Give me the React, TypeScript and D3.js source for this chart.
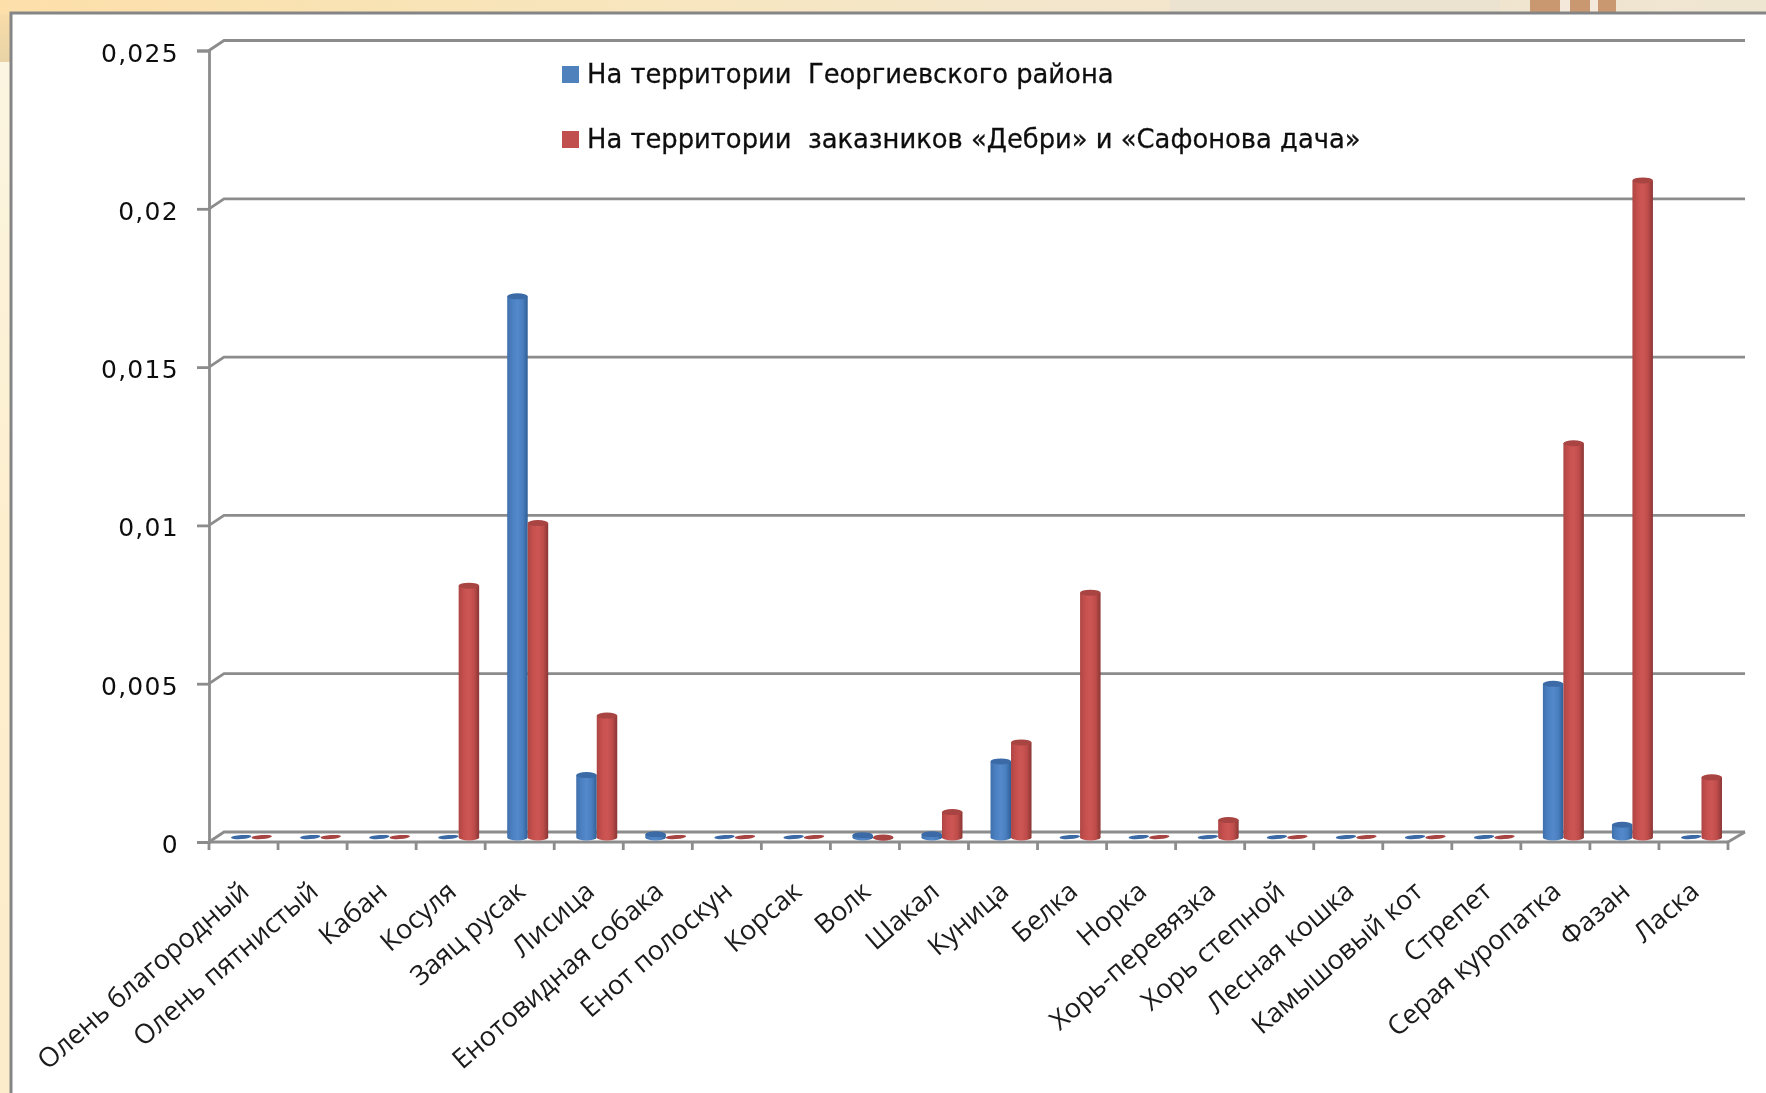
import { useEffect, useRef } from 'react'
import * as d3 from 'd3'

const categories = [
  'Олень благородный', 'Олень пятнистый', 'Кабан', 'Косуля', 'Заяц русак', 'Лисица',
  'Енотовидная собака', 'Енот полоскун', 'Корсак', 'Волк', 'Шакал', 'Куница', 'Белка',
  'Норка', 'Хорь-перевязка', 'Хорь степной', 'Лесная кошка', 'Камышовый кот', 'Стрепет',
  'Серая куропатка', 'Фазан', 'Ласка'
]
const districtValues = [
  0, 0, 0, 0, 0.01714, 0.00202, 0.00015, 0, 0, 0.00012, 0.00015, 0.00245, 0,
  0, 0, 0, 0, 0, 0, 0.0049, 0.00045, 0
]
const reserveValues = [
  0, 0, 0, 0.008, 0.00998, 0.0039, 0, 0, 0, 0.00005, 0.00085, 0.00305, 0.00778,
  0, 0.0006, 0, 0, 0, 0, 0.0125, 0.0208, 0.00195
]
const yTicks = [0, 0.005, 0.01, 0.015, 0.02, 0.025]
const legendLabels = [
  'На территории  Георгиевского района',
  'На территории  заказников «Дебри» и «Сафонова дача»'
]

const WIDTH = 1766
const HEIGHT = 1093

export default function App() {
  const svgRef = useRef<SVGSVGElement>(null)

  useEffect(() => {
    if (!svgRef.current) return
    const root = d3.select(svgRef.current)
    root.selectAll('*').remove()

    // front plane of the 3D box, the back wall is offset by depth
    const left = 209
    const right = 1728
    const zeroY = 842
    const topY = 50.5
    const depthX = 17
    const depthY = 10

    const x = d3.scaleBand<string>().domain(categories).range([left, right])
    const y = d3.scaleLinear().domain([0, 0.025]).range([zeroY, topY])

    const defs = root.append('defs')
    const addGradient = (id: string, stops: string[]) => {
      const g = defs.append('linearGradient').attr('id', id)
      stops.forEach((c, i) => {
        g.append('stop').attr('offset', i / (stops.length - 1)).attr('stop-color', c)
      })
    }
    addGradient('blueBar', ['#3f70ab', '#4b80c2', '#5489cb', '#4a7fbf', '#2f5f96'])
    addGradient('redBar', ['#ad4644', '#c6504e', '#cd5654', '#bf4d4b', '#8a3634'])
    addGradient('topBand', ['#fddfaa', '#f9e3b4', '#f7e6c0', '#f3e6cc', '#f0e4cc', '#efe6d2'])

    const side = defs.append('linearGradient').attr('id', 'sideBand').attr('x1', 0).attr('x2', 0).attr('y1', 0).attr('y2', 1)
    side.append('stop').attr('offset', 0).attr('stop-color', '#fddfaa')
    side.append('stop').attr('offset', 1).attr('stop-color', '#e9d3a6')

    const cream = defs.append('linearGradient').attr('id', 'cream').attr('x1', 0).attr('x2', 0).attr('y1', 0).attr('y2', 1)
    cream.append('stop').attr('offset', 0).attr('stop-color', '#fbf6e4')
    cream.append('stop').attr('offset', 0.5).attr('stop-color', '#fdeecd')
    cream.append('stop').attr('offset', 1).attr('stop-color', '#fdeccb')

    // the reference is an upscaled screenshot, keep it a bit soft
    defs.append('filter').attr('id', 'soft')
      .attr('x', 0).attr('y', 0)
      .attr('filterUnits', 'userSpaceOnUse')
      .attr('width', WIDTH).attr('height', HEIGHT)
      .append('feGaussianBlur').attr('stdDeviation', 0.6)

    const svg = root.append('g').attr('filter', 'url(#soft)')

    // slide background and chart panel
    svg.append('rect').attr('width', WIDTH).attr('height', HEIGHT).attr('fill', 'url(#cream)')
    svg.append('rect').attr('width', 11).attr('height', 62).attr('fill', 'url(#sideBand)')
    svg.append('rect').attr('width', WIDTH).attr('height', 14).attr('fill', 'url(#topBand)')
    svg.append('rect').attr('x', 1170).attr('width', 330).attr('height', 13).attr('fill', '#ebe2d0')
    svg.append('rect').attr('x', 1530).attr('width', 86).attr('height', 13).attr('fill', '#c9986f')
    svg.append('rect').attr('x', 1560).attr('width', 10).attr('height', 13).attr('fill', '#f3e8da')
    svg.append('rect').attr('x', 1590).attr('width', 8).attr('height', 13).attr('fill', '#f3e8da')
    svg.append('rect')
      .attr('x', 11).attr('y', 13).attr('width', WIDTH).attr('height', HEIGHT)
      .attr('fill', '#ffffff').attr('stroke', '#858585').attr('stroke-width', 3)

    const gridColor = '#8c8c8c'
    const grid = svg.append('g').attr('stroke', gridColor).attr('stroke-width', 2.8).attr('fill', 'none')

    // gridlines run along the back wall and step down to the front axis
    grid.selectAll('path')
      .data(yTicks)
      .enter()
      .append('path')
      .attr('d', d => {
        const py = y(d)
        return `M${left},${py}L${left + depthX - 2},${py - depthY}H${right + depthX}`
      })

    // floor of the box
    grid.append('path')
      .attr('d', `M${right},${zeroY}L${right + depthX},${zeroY - depthY}`)

    // axes
    const yAxis = d3.axisLeft(y)
      .tickValues(yTicks)
      .tickSize(12)
      .tickPadding(18)
      .tickFormat(d => String(d).replace('.', ','))
    const yG = svg.append('g').attr('transform', `translate(${left},0)`).call(yAxis)
    yG.select('.domain').attr('stroke', gridColor).attr('stroke-width', 2.8)
    yG.selectAll('.tick line').attr('stroke', gridColor).attr('stroke-width', 2.8)
    yG.selectAll('.tick text')
      .attr('font-family', '"DejaVu Sans", sans-serif')
      .attr('font-size', 25)
      .attr('letter-spacing', 1.3)
      .attr('dy', '0.42em')
      .attr('fill', '#111111')

    const xG = svg.append('g').attr('transform', `translate(0,${zeroY})`)
    xG.append('line').attr('x1', left).attr('x2', right).attr('stroke', gridColor).attr('stroke-width', 2.8)
    const tickPositions = [...categories.map(c => x(c) as number), right]
    xG.selectAll('line.tick')
      .data(tickPositions)
      .enter()
      .append('line')
      .attr('class', 'tick')
      .attr('x1', d => d).attr('x2', d => d)
      .attr('y1', 0).attr('y2', 8)
      .attr('stroke', gridColor).attr('stroke-width', 2.8)

    xG.selectAll('text')
      .data(categories)
      .enter()
      .append('text')
      .attr('transform', d => `translate(${(x(d) as number) + x.bandwidth() * 0.62 - 1},52) rotate(-41)`)
      .attr('text-anchor', 'end')
      .attr('font-family', '"Open Sans", sans-serif')
      .attr('font-size', 27)
      .attr('fill', '#1a1a1a')
      .text(d => d)

    // cylinders
    const barW = 20.5
    const baseY = zeroY - 4.5
    const ry = 3
    const cylinder = (cx: number, value: number, fill: string, topFill: string) => {
      const h = y(0) - y(value)
      const g = svg.append('g')
      if (value <= 0) {
        g.append('ellipse')
          .attr('cx', cx).attr('cy', baseY - 0.5)
          .attr('rx', barW / 2).attr('ry', 2)
          .attr('fill', topFill)
          .attr('transform', `rotate(-4 ${cx} ${baseY})`)
        return
      }
      const top = baseY - h + 1.5
      g.append('path')
        .attr('d', `M${cx - barW / 2},${top}V${baseY}A${barW / 2},${ry} 0 0 0 ${cx + barW / 2},${baseY}V${top}Z`)
        .attr('fill', fill)
      g.append('ellipse')
        .attr('cx', cx).attr('cy', top)
        .attr('rx', barW / 2).attr('ry', ry)
        .attr('fill', topFill)
    }

    categories.forEach((c, i) => {
      const mid = (x(c) as number) + x.bandwidth() / 2 + 8
      cylinder(mid - barW / 2, districtValues[i], 'url(#blueBar)', '#3a6ba6')
      cylinder(mid + barW / 2, reserveValues[i], 'url(#redBar)', '#a84442')
    })

    // legend
    const legend = svg.append('g')
    const colors = ['#4f81bd', '#c0504d']
    legendLabels.forEach((label, i) => {
      const ly = 75 + i * 65
      legend.append('rect')
        .attr('x', 562).attr('y', ly - 9)
        .attr('width', 17).attr('height', 17)
        .attr('fill', colors[i])
      legend.append('text')
        .attr('x', 587).attr('y', ly + 8)
        .attr('font-family', '"DejaVu Sans", sans-serif')
        .attr('font-size', 25.8)
        .style('white-space', 'pre')
        .attr('stroke', '#111111')
        .attr('stroke-width', 0.3)
        .attr('fill', '#111111')
        .text(label)
    })
  }, [])

  return (
    <svg
      ref={svgRef}
      width={WIDTH}
      height={HEIGHT}
      style={{ position: 'absolute', left: 0, top: 0, display: 'block' }}
    />
  )
}
